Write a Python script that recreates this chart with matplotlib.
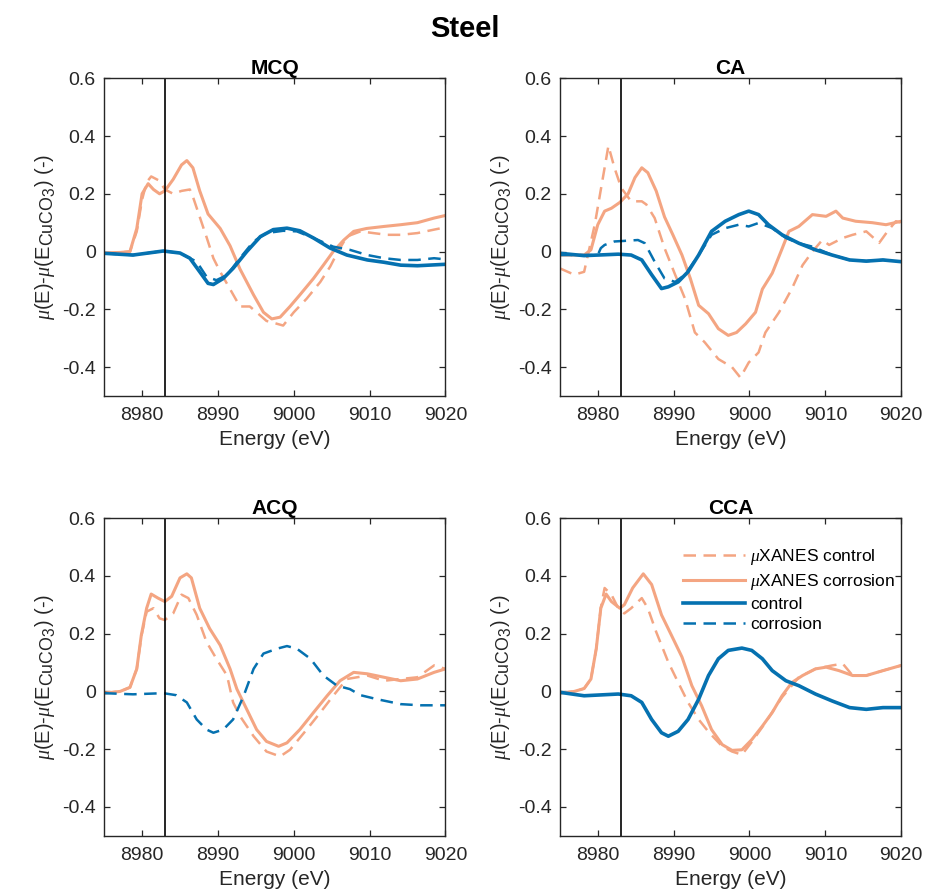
import matplotlib
matplotlib.use("Agg")
import matplotlib.pyplot as plt
import matplotlib._mathtext as mathtext_internal
from matplotlib.lines import Line2D

plt.rcParams['font.family'] = ['Liberation Sans', 'DejaVu Sans']
plt.rcParams['mathtext.fontset'] = 'custom'
plt.rcParams['mathtext.rm'] = 'Liberation Sans'
plt.rcParams['mathtext.it'] = 'Liberation Serif:italic'
plt.rcParams['axes.unicode_minus'] = False
# MATLAB tex subscripts are barely shrunk
mathtext_internal.SHRINK_FACTOR = 0.88

# --- data: (energy eV, mu(E)-mu(E_CuCO3)) ---
mcq_xanes_control = [(8975, -0.005), (8977.1, -0.003), (8978.4, 0.0), (8979.3, 0.07), (8980.0, 0.18),
                     (8980.6, 0.24), (8981.2, 0.26), (8982.3, 0.245), (8983.0, 0.215), (8984.1, 0.2),
                     (8985.2, 0.21), (8986.3, 0.215), (8986.7, 0.19), (8987.6, 0.12), (8988.5, 0.05),
                     (8989.4, -0.023), (8990.3, -0.07), (8991.6, -0.13), (8992.9, -0.19), (8994.2, -0.19),
                     (8995.1, -0.21), (8996.4, -0.24), (8997.8, -0.25), (8998.6, -0.256), (9000.0, -0.21),
                     (9001.7, -0.163), (9003.5, -0.105), (9004.8, -0.052), (9005.7, -0.006), (9007.0, 0.052),
                     (9008.8, 0.07), (9010.5, 0.064), (9012.3, 0.058), (9014.1, 0.058), (9016.3, 0.064),
                     (9018.5, 0.076), (9020, 0.084)]
mcq_xanes_corrosion = [(8975, -0.005), (8977.1, -0.003), (8978.4, 0.0), (8979.3, 0.08), (8980.0, 0.2),
                       (8980.8, 0.235), (8981.5, 0.215), (8982.3, 0.2), (8983.0, 0.21), (8984.1, 0.25),
                       (8985.2, 0.3), (8985.9, 0.315), (8986.7, 0.29), (8987.6, 0.21), (8988.7, 0.13),
                       (8990.3, 0.08), (8991.6, 0.02), (8992.9, -0.06), (8994.7, -0.15), (8996.0, -0.21),
                       (8997.1, -0.233), (8998.2, -0.227), (8999.5, -0.19), (9000.8, -0.15), (9002.6, -0.093),
                       (9003.9, -0.047), (9005.2, 0.0), (9006.6, 0.04), (9007.9, 0.07), (9009.6, 0.08),
                       (9011.9, 0.087), (9014.1, 0.093), (9016.3, 0.1), (9018.5, 0.116), (9020, 0.125)]
mcq_control = [(8975, -0.006), (8978.8, -0.012), (8982.8, 0.002), (8985.0, -0.005), (8986.3, -0.023),
               (8987.6, -0.07), (8988.7, -0.11), (8989.4, -0.114), (8990.7, -0.093), (8992.0, -0.058),
               (8993.8, 0.0), (8995.6, 0.052), (8997.3, 0.076), (8999.1, 0.081), (9000.8, 0.072),
               (9002.6, 0.047), (9004.8, 0.012), (9007.0, -0.012), (9009.7, -0.029), (9011.9, -0.037),
               (9014.1, -0.047), (9016.3, -0.049), (9020, -0.044)]
mcq_corrosion = [(8975, -0.006), (8978.8, -0.012), (8982.8, 0.002), (8985.0, -0.005), (8987.2, -0.035),
                 (8988.5, -0.087), (8989.8, -0.099), (8991.2, -0.081), (8992.9, -0.023), (8994.7, 0.035),
                 (8996.4, 0.064), (8998.6, 0.072), (9000.4, 0.07), (9002.6, 0.047), (9005.2, 0.017),
                 (9007.4, 0.006), (9009.7, -0.012), (9011.9, -0.023), (9014.1, -0.029), (9016.3, -0.029),
                 (9018.5, -0.023), (9020, -0.027)]

ca_xanes_control = [(8975, -0.058), (8976.9, -0.08), (8978.2, -0.07), (8979.6, 0.093), (8980.9, 0.29),
                    (8981.4, 0.366), (8982.2, 0.29), (8983.1, 0.22), (8984.4, 0.174), (8985.8, 0.174),
                    (8986.4, 0.163), (8987.5, 0.116), (8988.8, 0.012), (8990.2, -0.08), (8991.5, -0.163),
                    (8992.8, -0.28), (8994.1, -0.314), (8995.9, -0.372), (8997.7, -0.4), (8998.8, -0.436),
                    (8999.9, -0.384), (9001.2, -0.349), (9002.1, -0.28), (9003.9, -0.21), (9005.6, -0.128),
                    (9007.0, -0.047), (9008.3, 0.0), (9009.6, 0.04), (9010.5, 0.023), (9012.3, 0.047),
                    (9013.6, 0.058), (9015.4, 0.07), (9017.1, 0.03), (9018.2, 0.07), (9019.3, 0.105),
                    (9020, 0.1)]
ca_xanes_corrosion = [(8975, -0.012), (8978.2, -0.012), (8979.1, 0.006), (8980.0, 0.093), (8980.9, 0.14),
                      (8981.8, 0.15), (8982.9, 0.17), (8984.0, 0.2), (8984.9, 0.256), (8985.8, 0.29),
                      (8986.6, 0.273), (8987.7, 0.21), (8988.8, 0.12), (8989.9, 0.058), (8991.1, -0.012),
                      (8992.2, -0.093), (8993.3, -0.186), (8994.6, -0.215), (8995.9, -0.267), (8997.2, -0.29),
                      (8998.3, -0.28), (8999.5, -0.25), (9000.8, -0.21), (9001.7, -0.13), (9003.0, -0.075),
                      (9004.3, 0.01), (9005.2, 0.07), (9006.5, 0.087), (9008.3, 0.128), (9010.1, 0.122),
                      (9011.4, 0.14), (9012.3, 0.116), (9014.0, 0.105), (9016.2, 0.1), (9018.0, 0.093),
                      (9020, 0.105)]
ca_control = [(8975, -0.006), (8978.2, -0.014), (8982.7, -0.009), (8984.4, -0.012), (8985.8, -0.029),
              (8987.1, -0.08), (8988.4, -0.128), (8989.3, -0.122), (8990.6, -0.105), (8991.9, -0.07),
              (8993.3, -0.012), (8995.0, 0.07), (8996.8, 0.105), (8998.6, 0.128), (8999.9, 0.14),
              (9001.2, 0.128), (9002.5, 0.093), (9004.3, 0.058), (9006.5, 0.029), (9008.7, 0.006),
              (9010.9, -0.012), (9013.2, -0.029), (9015.4, -0.033), (9017.6, -0.029), (9020, -0.035)]
ca_corrosion = [(8975, -0.012), (8980.0, -0.012), (8980.4, 0.012), (8980.9, 0.023), (8982.2, 0.035),
                (8983.5, 0.037), (8985.3, 0.04), (8986.2, 0.029), (8987.5, -0.035), (8988.8, -0.093),
                (8990.2, -0.105), (8991.5, -0.08), (8993.3, -0.012), (8995.0, 0.058), (8996.8, 0.081),
                (8998.6, 0.093), (8999.9, 0.087), (9001.2, 0.099), (9003.0, 0.081), (9004.8, 0.047),
                (9006.5, 0.029), (9008.3, 0.017), (9010.9, -0.012), (9013.2, -0.029), (9015.4, -0.033),
                (9017.6, -0.029), (9020, -0.035)]

acq_xanes_control = [(8975, -0.006), (8977.1, 0.0), (8978.4, 0.014), (8979.3, 0.078), (8979.9, 0.19),
                     (8980.6, 0.276), (8981.5, 0.288), (8982.3, 0.253), (8983.0, 0.247), (8984.1, 0.27),
                     (8985.2, 0.335), (8986.1, 0.323), (8987.2, 0.265), (8988.5, 0.171), (8989.8, 0.113),
                     (8991.2, 0.055), (8992.0, -0.038), (8992.9, -0.085), (8994.7, -0.155), (8996.4, -0.208),
                     (8998.2, -0.225), (8999.5, -0.202), (9001.7, -0.132), (9003.5, -0.073), (9005.2, -0.015),
                     (9007.0, 0.043), (9009.7, 0.055), (9011.9, 0.037), (9014.1, 0.043), (9016.3, 0.049),
                     (9018.5, 0.09), (9020, 0.078)]
acq_xanes_corrosion = [(8975, -0.006), (8977.1, 0.0), (8978.4, 0.014), (8979.3, 0.078), (8979.9, 0.195),
                       (8980.6, 0.288), (8981.2, 0.337), (8982.1, 0.323), (8983.0, 0.311), (8983.9, 0.329),
                       (8985.0, 0.393), (8985.9, 0.407), (8986.5, 0.393), (8987.6, 0.288), (8988.9, 0.218),
                       (8990.3, 0.16), (8991.6, 0.078), (8992.5, 0.008), (8993.8, -0.062), (8995.1, -0.132),
                       (8996.4, -0.173), (8998.0, -0.19), (8999.1, -0.178), (9000.8, -0.132), (9002.6, -0.073),
                       (9004.4, -0.015), (9006.1, 0.037), (9007.9, 0.066), (9009.7, 0.061), (9011.9, 0.049),
                       (9014.1, 0.037), (9016.3, 0.043), (9018.5, 0.066), (9020, 0.078)]
acq_corrosion = [(8975, -0.006), (8978.8, -0.01), (8982.8, -0.006), (8984.5, -0.013), (8985.9, -0.038),
                 (8987.2, -0.097), (8988.5, -0.132), (8989.4, -0.143), (8990.7, -0.132), (8992.0, -0.097),
                 (8993.4, -0.015), (8994.7, 0.078), (8996.0, 0.131), (8997.8, 0.148), (8999.1, 0.157),
                 (9000.4, 0.148), (9002.2, 0.113), (9003.9, 0.055), (9005.7, 0.02), (9007.4, 0.008),
                 (9008.8, -0.013), (9011.0, -0.027), (9014.1, -0.044), (9016.7, -0.048), (9020, -0.048)]

cca_xanes_control = [(8975, -0.006), (8976.9, 0.0), (8978.2, 0.01), (8979.1, 0.043), (8979.8, 0.148),
                     (8980.4, 0.29), (8980.9, 0.358), (8981.8, 0.335), (8982.7, 0.288), (8983.5, 0.27),
                     (8984.4, 0.288), (8985.8, 0.323), (8986.6, 0.288), (8987.7, 0.206), (8989.3, 0.101),
                     (8990.6, 0.031), (8991.9, -0.038), (8993.3, -0.097), (8994.6, -0.14), (8996.4, -0.19),
                     (8997.7, -0.208), (8999.0, -0.219), (9000.3, -0.175), (9002.1, -0.108), (9004.3, -0.02),
                     (9006.5, 0.049), (9008.7, 0.078), (9010.9, 0.09), (9012.3, 0.096), (9013.6, 0.055),
                     (9015.4, 0.055), (9017.6, 0.072), (9020, 0.09)]
cca_xanes_corrosion = [(8975, -0.006), (8976.9, 0.0), (8978.2, 0.01), (8979.1, 0.043), (8979.8, 0.148),
                       (8980.4, 0.288), (8981.1, 0.337), (8981.8, 0.311), (8982.9, 0.288), (8983.5, 0.3),
                       (8984.6, 0.358), (8986.0, 0.407), (8987.1, 0.37), (8988.4, 0.265), (8989.7, 0.195),
                       (8991.1, 0.119), (8992.4, 0.02), (8993.7, -0.05), (8995.0, -0.132), (8996.4, -0.184),
                       (8997.7, -0.204), (8999.0, -0.202), (9000.3, -0.167), (9001.7, -0.12), (9003.0, -0.073),
                       (9004.3, -0.015), (9005.6, 0.031), (9007.0, 0.055), (9008.7, 0.078), (9010.1, 0.084),
                       (9011.8, 0.072), (9013.6, 0.055), (9015.4, 0.055), (9017.6, 0.072), (9020, 0.09)]
cca_control = [(8975, -0.003), (8978.2, -0.015), (8982.7, -0.009), (8984.4, -0.015), (8985.8, -0.038),
               (8987.1, -0.097), (8988.4, -0.143), (8989.3, -0.155), (8990.6, -0.138), (8991.9, -0.097),
               (8993.3, -0.027), (8994.6, 0.055), (8995.9, 0.113), (8997.2, 0.142), (8999.0, 0.15),
               (9000.3, 0.142), (9001.7, 0.113), (9003.0, 0.072), (9004.8, 0.037), (9006.5, 0.02),
               (9008.7, -0.009), (9010.9, -0.033), (9013.2, -0.056), (9015.4, -0.062), (9017.6, -0.056),
               (9020, -0.056)]

panels = [
    ("MCQ", mcq_xanes_control, mcq_xanes_corrosion, mcq_control, mcq_corrosion),
    ("CA", ca_xanes_control, ca_xanes_corrosion, ca_control, ca_corrosion),
    ("ACQ", acq_xanes_control, acq_xanes_corrosion, None, acq_corrosion),
    ("CCA", cca_xanes_control, cca_xanes_corrosion, cca_control, None),
]
edge_energy = 8983

salmon = '#F4A582'
blue = '#0571B0'
ink = '#262626'
dash = dict(ls=(0, (5, 3)), lw=1.8)

fig = plt.figure(figsize=(9.3, 8.94), dpi=100)
boxes = [(0.112, 0.557), (0.602, 0.557), (0.112, 0.065), (0.602, 0.065)]
w, h = 0.367, 0.3555

for (left, bottom), (name, xc, xr, ctl, cor) in zip(boxes, panels):
    ax = fig.add_axes([left, bottom, w, h])
    if xc is not None:
        e, v = zip(*xc)
        ax.plot(e, v, color=salmon, **dash)
    if xr is not None:
        e, v = zip(*xr)
        ax.plot(e, v, color=salmon, lw=2.2)
    if ctl is not None:
        e, v = zip(*ctl)
        ax.plot(e, v, color=blue, lw=2.6)
    if cor is not None:
        e, v = zip(*cor)
        ax.plot(e, v, color=blue, **dash)
    ax.axvline(edge_energy, color='black', lw=1.2)

    ax.set_xlim(8975, 9020)
    ax.set_ylim(-0.5, 0.6)
    ax.set_xticks([8980, 8990, 9000, 9010, 9020])
    ax.set_yticks([-0.4, -0.2, 0, 0.2, 0.4, 0.6])
    ax.set_yticklabels(['-0.4', '-0.2', '0', '0.2', '0.4', '0.6'])
    ax.tick_params(direction='in', top=True, right=True, length=4, width=0.9,
                   labelsize=14, colors=ink)
    ax.tick_params(axis='x', pad=8)
    ax.tick_params(axis='y', pad=6)
    for s in ax.spines.values():
        s.set_color(ink)
        s.set_linewidth(1.0)
    ax.set_title(name, fontsize=15, fontweight='bold', pad=3)
    ax.set_xlabel('Energy (eV)', fontsize=15, color=ink, labelpad=4)
    ax.set_ylabel(r'$\mu$(E)-$\mu$(E$_{\mathrm{CuCO}_{3}}$) (-)', fontsize=14.5, color=ink, labelpad=3)

    if name == "CCA":
        # legend lists all four series, the CCA panel only draws three
        handles = [Line2D([], [], color=salmon, **dash),
                   Line2D([], [], color=salmon, lw=2.2),
                   Line2D([], [], color=blue, lw=2.6),
                   Line2D([], [], color=blue, **dash)]
        labels = [r'$\mu$XANES control', r'$\mu$XANES corrosion', 'control', 'corrosion']
        ax.legend(handles, labels, loc='upper left', bbox_to_anchor=(0.36, 0.908),
                  frameon=False, fontsize=12.5, handlelength=3.6, handletextpad=0.3,
                  labelspacing=0.28, borderpad=0, borderaxespad=0)

fig.suptitle('Steel', fontsize=21, fontweight='bold', y=0.983)
fig.savefig('out.png', dpi=100)
